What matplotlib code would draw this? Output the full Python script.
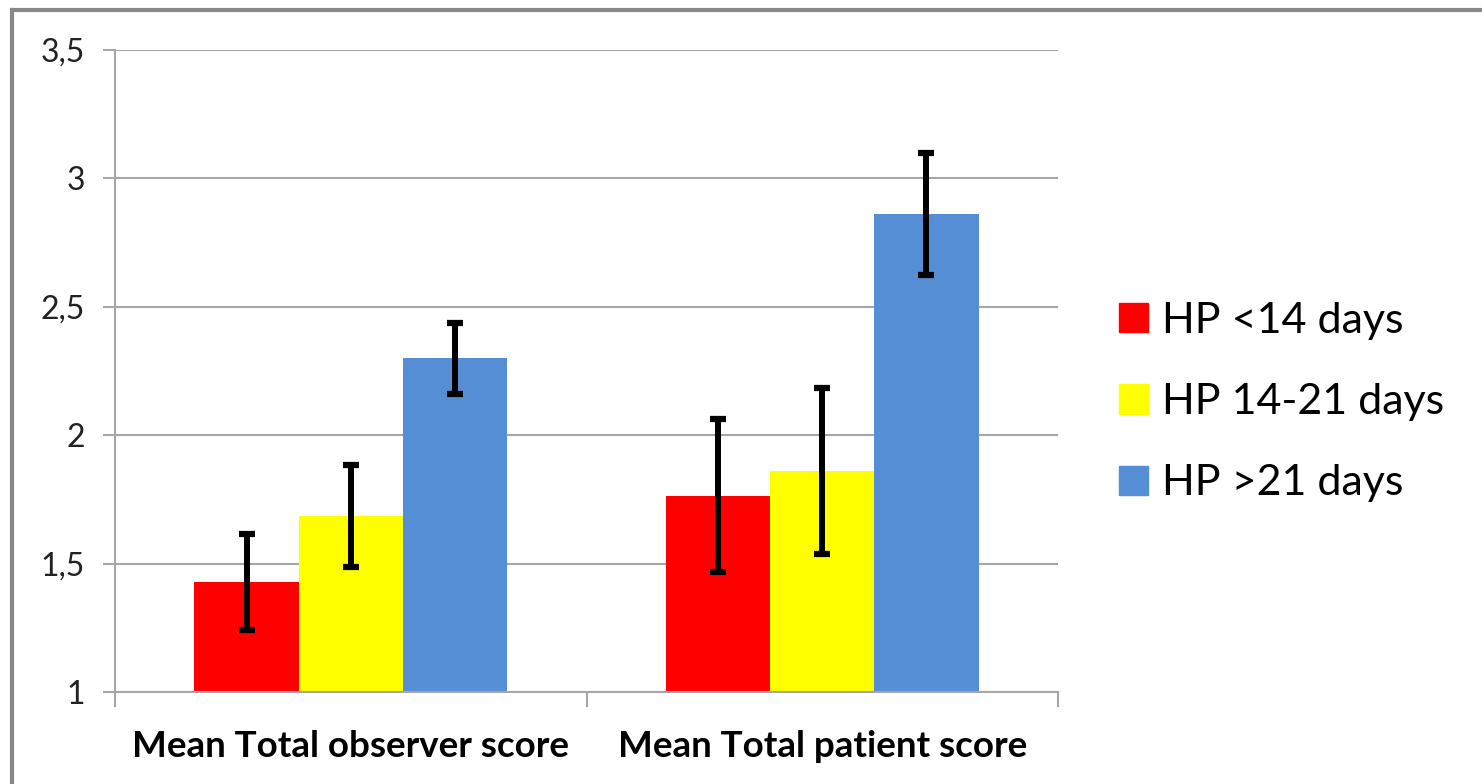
import matplotlib
matplotlib.use("Agg")
import matplotlib.pyplot as plt
from matplotlib.patches import Patch
from matplotlib.lines import Line2D
import numpy as np

categories = ["Mean Total observer score", "Mean Total patient score"]
series_names = ["HP <14 days", "HP 14-21 days", "HP >21 days"]
values_lt14 = [1.43, 1.765]
values_14_21 = [1.685, 1.86]
values_gt21 = [2.30, 2.86]
err_lt14 = [0.187, 0.297]
err_14_21 = [0.20, 0.323]
err_gt21 = [0.138, 0.237]
colors = ["#FF0000", "#FFFF00", "#558ED5"]
yticks = [1, 1.5, 2, 2.5, 3, 3.5]
ytick_labels = ["1", "1,5", "2", "2,5", "3", "3,5"]

plt.rcParams['font.family'] = ['Lato', 'DejaVu Sans']

fig = plt.figure(figsize=(14.82, 7.84), dpi=100)
ax = fig.add_axes([115/1482, 1-692/784, (1058-115)/1482, (692-50)/784])

x = np.arange(len(categories))
w = 0.221
vals = [values_lt14, values_14_21, values_gt21]
errs = [err_lt14, err_14_21, err_gt21]
for i in range(3):
    ax.bar(x + (i-1)*w, vals[i], width=w, bottom=0, color=colors[i],
           label=series_names[i], zorder=2)
    ax.errorbar(x + (i-1)*w, vals[i], yerr=errs[i], fmt='none', ecolor='black',
                elinewidth=4.3, capsize=5.8, capthick=4.5, zorder=3)

ax.set_ylim(1, 3.5)
ax.set_xlim(-0.5, 1.5)
ax.set_yticks(yticks)
ax.set_yticklabels(ytick_labels)
ax.yaxis.grid(True, color='#A6A6A6', linewidth=1.5, zorder=0)
ax.set_axisbelow(True)
ax.set_xticks([-0.5, 0.5, 1.5])
ax.set_xticklabels([])
ax.set_xticks(x, minor=True)
ax.set_xticklabels(categories, minor=True, fontsize=26.5, fontweight='bold')
ax.tick_params(axis='x', which='minor', length=0, pad=27.5)
ax.tick_params(axis='x', which='major', length=11, width=1.5, color='#A6A6A6')
ax.tick_params(axis='y', length=9, width=1.5, color='#A6A6A6', pad=12.5, labelsize=23, labelcolor='#222222')
for s in ['top', 'right']:
    ax.spines[s].set_visible(False)
for s in ['left', 'bottom']:
    ax.spines[s].set_color('#A6A6A6')
    ax.spines[s].set_linewidth(1.5)

handles = [Patch(facecolor=c, edgecolor=c) for c in colors]
fig.legend(handles, series_names, loc='center left', bbox_to_anchor=(1119/1482, 1-402/784),
           frameon=False, fontsize=31, handlelength=0.68, handleheight=0.68,
           handletextpad=0.32, labelspacing=1.01, borderpad=0, borderaxespad=0)

# outer border (top and left visible)
fig.add_artist(Line2D([12/1482, 12/1482], [0, 1-10/784], color='#888888', linewidth=3,
                      transform=fig.transFigure))
fig.add_artist(Line2D([12/1482, 1], [1-10/784, 1-10/784], color='#888888', linewidth=3,
                      transform=fig.transFigure))

fig.savefig("out.png", dpi=100, facecolor='white')
